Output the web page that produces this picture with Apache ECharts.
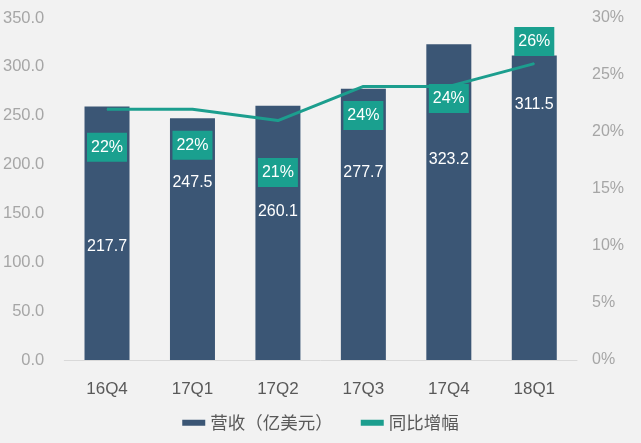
<!DOCTYPE html>
<html>
<head>
<meta charset="utf-8">
<script src="https://cdn.jsdelivr.net/npm/echarts@6/dist/echarts.min.js"></script>
<style>
html,body{margin:0;padding:0;background:#f2f2f2;}
#c{width:641px;height:443px;}
</style>
</head>
<body>
<div id="c"></div>
<script>
// Data
var categories = ['16Q4', '17Q1', '17Q2', '17Q3', '17Q4', '18Q1'];
var revenue = [259.5, 247.5, 260.1, 277.7, 323.2, 311.5];
var revenueLabels = ['217.7', '247.5', '260.1', '277.7', '323.2', '311.5'];
var growth = [22, 22, 21, 24, 24, 26];
var leftTicks = {min: 0, max: 350, interval: 50};
var rightTicks = {min: 0, max: 30, interval: 5};
var seriesNames = ['营收（亿美元）', '同比增幅'];

// Layout (label placement, not data)
var revLabelOffsets = [13, -56, -21, -52, -42, -103];
var growthLabelOffsets = [38, 36, 52, 29, 12, -22];

var font = "'Liberation Sans', Arial, 'Noto Sans CJK SC', sans-serif";
var barColor = '#3b5675';
var teal = '#1c9e8e';

var chart = echarts.init(document.getElementById('c'), null, {renderer: 'canvas'});
chart.setOption({
  backgroundColor: '#f2f2f2',
  textStyle: {fontFamily: font},
  animation: false,
  grid: {left: 62, right: 64, top: 18, bottom: 83},
  legend: {
    left: 'center',
    top: 409,
    itemWidth: 23,
    itemHeight: 6,
    itemGap: 28,
    icon: 'rect',
    textStyle: {color: '#595959', fontSize: 17.5, fontFamily: "'Noto Sans CJK SC', sans-serif"},
    data: seriesNames
  },
  xAxis: {
    type: 'category',
    data: categories,
    axisLine: {lineStyle: {color: '#d9d9d9', width: 1}},
    axisTick: {show: false},
    axisLabel: {color: '#595959', fontSize: 17, margin: 21}
  },
  yAxis: [{
    type: 'value',
    min: leftTicks.min, max: leftTicks.max, interval: leftTicks.interval,
    axisLine: {show: false}, axisTick: {show: false}, splitLine: {show: false},
    axisLabel: {color: '#a6a6a6', fontSize: 16.5, margin: 20,
      formatter: function (v) { return v.toFixed(1); }}
  }, {
    type: 'value',
    min: rightTicks.min, max: rightTicks.max, interval: rightTicks.interval,
    axisLine: {show: false}, axisTick: {show: false}, splitLine: {show: false},
    axisLabel: {color: '#a6a6a6', fontSize: 16, margin: 15, formatter: '{value}%'}
  }],
  series: [{
    name: seriesNames[0],
    type: 'bar',
    barWidth: 45,
    itemStyle: {color: barColor},
    data: revenue.map(function (v, i) {
      return {value: v, label: {offset: [0, revLabelOffsets[i]]}};
    }),
    label: {
      show: true, position: 'inside', color: '#ffffff', fontSize: 16,
      formatter: function (p) { return revenueLabels[p.dataIndex]; }
    }
  }, {
    name: seriesNames[1],
    type: 'line',
    yAxisIndex: 1,
    symbol: 'circle',
    symbolSize: 1,
    showSymbol: true,
    lineStyle: {color: teal, width: 3},
    itemStyle: {color: teal},
    data: growth.map(function (v, i) {
      return {value: v, label: {offset: [0, growthLabelOffsets[i]]}};
    }),
    label: {
      show: true, position: 'inside', color: '#ffffff', fontSize: 16,
      backgroundColor: '#1aa08f', padding: [7, 4, 6, 4],
      formatter: function (p) { return p.value + '%'; }
    },
    z: 5
  }]
});
</script>
</body>
</html>
